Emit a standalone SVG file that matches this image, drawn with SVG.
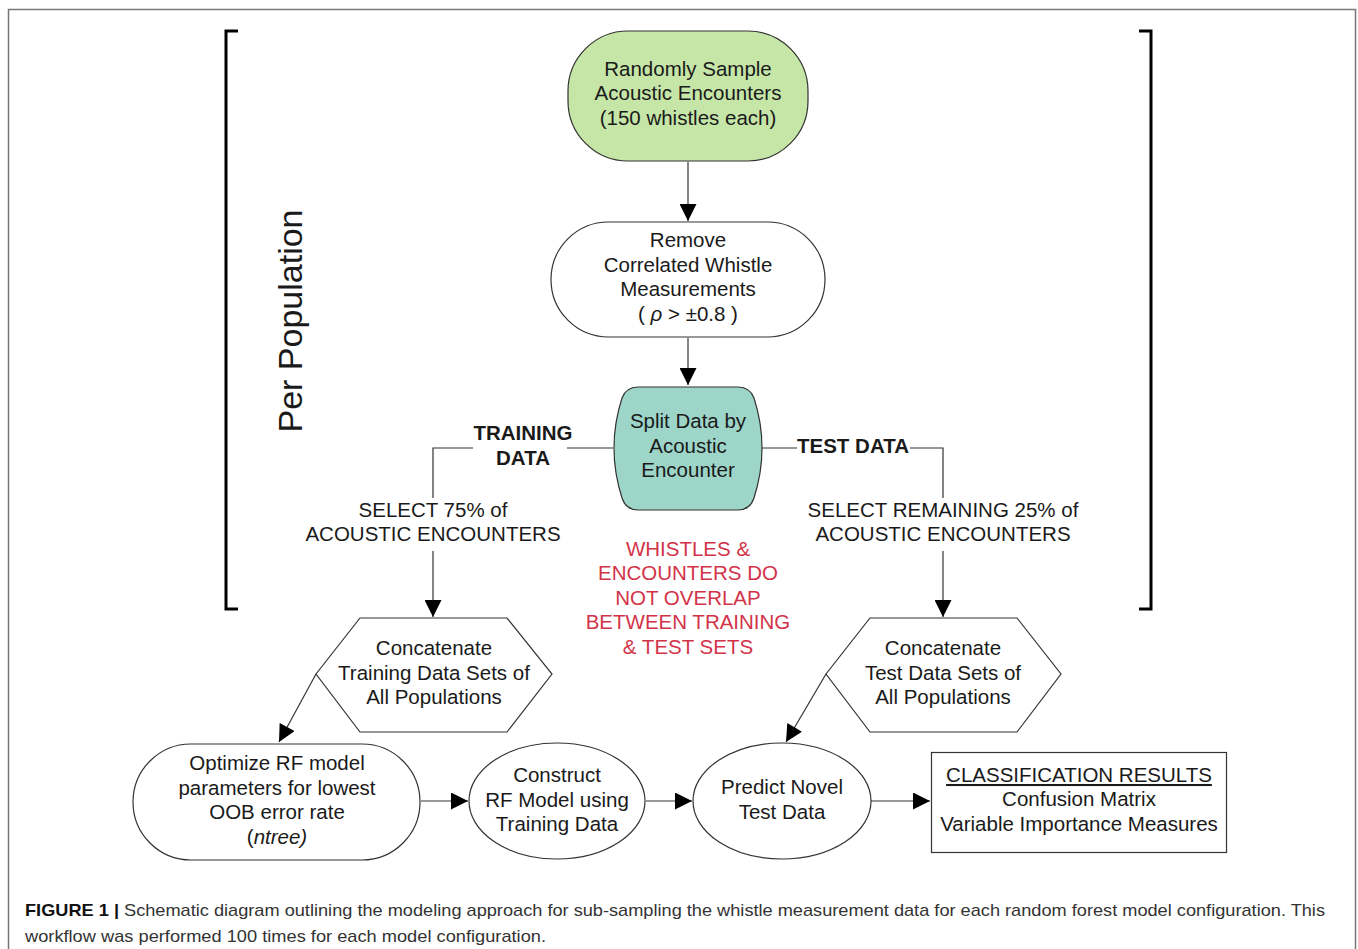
<svg xmlns="http://www.w3.org/2000/svg" width="1358" height="949" viewBox="0 0 1358 949">
<style>
text{font-family:"Liberation Sans",Arial,sans-serif;font-size:20.5px;fill:#1a1a1a;text-anchor:middle}
.shape{stroke:#333;stroke-width:1.2;fill:#fff}
.conn{stroke:#333;stroke-width:1.2;fill:none}
.bold{font-weight:bold}
.red{fill:#d23349}
.cap{font-size:17px;text-anchor:start;fill:#333}
</style>
<defs>
<marker id="arr" viewBox="0 0 10 10" refX="10" refY="5" markerWidth="18" markerHeight="17" markerUnits="userSpaceOnUse" orient="auto">
<path d="M0,0 L10,5 L0,10 Z" fill="#000"/>
</marker>
</defs>
<rect x="8.5" y="9.5" width="1347" height="980" fill="#fff" stroke="#777" stroke-width="1.5"/>
<g id="brackets" fill="none" stroke="#000" stroke-width="3">
<path d="M238,31 H226 V609 H238"/>
<path d="M1139,31 H1151 V609 H1139"/>
</g>
<text x="0" y="0" transform="translate(302,321) rotate(-90)" style="font-size:34px">Per Population</text>
<g id="connectors">
<line class="conn" x1="688" y1="162" x2="688" y2="221" marker-end="url(#arr)"/>
<line class="conn" x1="688" y1="338" x2="688" y2="385" marker-end="url(#arr)"/>
<path class="conn" d="M613,448 H567 M473,448 H433 V498"/>
<line class="conn" x1="433" y1="551" x2="433" y2="617" marker-end="url(#arr)"/>
<path class="conn" d="M762,448 H797 M910,448 H943 V498"/>
<line class="conn" x1="943" y1="551" x2="943" y2="617" marker-end="url(#arr)"/>
<line class="conn" x1="316" y1="674" x2="279" y2="742" marker-end="url(#arr)"/>
<line class="conn" x1="826" y1="674" x2="786" y2="742" marker-end="url(#arr)"/>
<line class="conn" x1="421" y1="801" x2="468" y2="801" marker-end="url(#arr)"/>
<line class="conn" x1="646" y1="801" x2="692" y2="801" marker-end="url(#arr)"/>
<line class="conn" x1="871" y1="801" x2="930" y2="801" marker-end="url(#arr)"/>
<text class="bold" x="523" y="440">TRAINING</text>
<text class="bold" x="523" y="465">DATA</text>
<text class="bold" x="853" y="453">TEST DATA</text>
<text x="433" y="517">SELECT 75% of</text>
<text x="433" y="541">ACOUSTIC ENCOUNTERS</text>
<text x="943" y="517">SELECT REMAINING 25% of</text>
<text x="943" y="541">ACOUSTIC ENCOUNTERS</text>
</g>
<g id="sample">
<rect class="shape" x="568" y="31" width="240" height="130" rx="60" ry="60" style="fill:#c6e6a8"/>
<text x="688" y="76">Randomly Sample</text>
<text x="688" y="100">Acoustic Encounters</text>
<text x="688" y="125">(150 whistles each)</text>
</g>
<g id="remove">
<rect class="shape" x="551" y="222" width="274" height="115" rx="57.5" ry="57.5"/>
<text x="688" y="247">Remove</text>
<text x="688" y="272">Correlated Whistle</text>
<text x="688" y="296">Measurements</text>
<text x="688" y="321">( <tspan font-style="italic">ρ</tspan> &gt; ±0.8 )</text>
</g>
<g id="split">
<path class="shape" style="fill:#9dd6c9" d="M638,387 H738 Q750,387 754,398 Q770,448 754,498 Q750,510 738,510 H638 Q626,510 622,498 Q606,448 622,398 Q626,387 638,387 Z"/>
<text x="688" y="428">Split Data by</text>
<text x="688" y="453">Acoustic</text>
<text x="688" y="477">Encounter</text>
</g>
<g id="note">
<text class="red" x="688" y="556">WHISTLES &amp;</text>
<text class="red" x="688" y="580">ENCOUNTERS DO</text>
<text class="red" x="688" y="605">NOT OVERLAP</text>
<text class="red" x="688" y="629">BETWEEN TRAINING</text>
<text class="red" x="688" y="654">&amp; TEST SETS</text>
</g>
<g id="concat-train">
<polygon class="shape" points="316,674 360,618 507,618 552,674 507,732 360,732"/>
<text x="434" y="655">Concatenate</text>
<text x="434" y="680">Training Data Sets of</text>
<text x="434" y="704">All Populations</text>
</g>
<g id="concat-test">
<polygon class="shape" points="826,674 870,618 1017,618 1061,674 1017,732 870,732"/>
<text x="943" y="655">Concatenate</text>
<text x="943" y="680">Test Data Sets of</text>
<text x="943" y="704">All Populations</text>
</g>
<g id="optimize">
<rect class="shape" x="133" y="744" width="287" height="116" rx="58" ry="58"/>
<text x="277" y="770">Optimize RF model</text>
<text x="277" y="795">parameters for lowest</text>
<text x="277" y="819">OOB error rate</text>
<text x="277" y="844">(<tspan font-style="italic">ntree)</tspan></text>
</g>
<g id="construct">
<ellipse class="shape" cx="557" cy="801" rx="88" ry="58"/>
<text x="557" y="782">Construct</text>
<text x="557" y="807">RF Model using</text>
<text x="557" y="831">Training Data</text>
</g>
<g id="predict">
<ellipse class="shape" cx="782" cy="801" rx="89" ry="58"/>
<text x="782" y="794">Predict Novel</text>
<text x="782" y="819">Test Data</text>
</g>
<g id="results">
<rect class="shape" x="931.5" y="752.5" width="295" height="100"/>
<text x="1079" y="782" text-decoration="underline">CLASSIFICATION RESULTS</text>
<text x="1079" y="806">Confusion Matrix</text>
<text x="1079" y="831">Variable Importance Measures</text>
</g>
<g id="caption">
<text class="cap" x="25" y="916" textLength="1300" lengthAdjust="spacingAndGlyphs"><tspan font-weight="bold" fill="#111">FIGURE 1 |</tspan> Schematic diagram outlining the modeling approach for sub-sampling the whistle measurement data for each random forest model configuration. This</text>
<text class="cap" x="25" y="942" textLength="521" lengthAdjust="spacingAndGlyphs">workflow was performed 100 times for each model configuration.</text>
</g>
</svg>
